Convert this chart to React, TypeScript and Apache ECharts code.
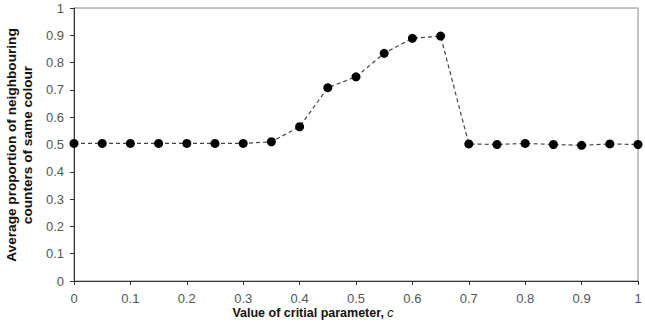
import React, { useEffect, useRef } from "react";
import * as echarts from "echarts";

const xValues = [0, 0.05, 0.1, 0.15, 0.2, 0.25, 0.3, 0.35, 0.4, 0.45, 0.5, 0.55, 0.6, 0.65, 0.7, 0.75, 0.8, 0.85, 0.9, 0.95, 1.0];
const yValues = [0.504, 0.504, 0.504, 0.504, 0.504, 0.504, 0.504, 0.51, 0.565, 0.708, 0.748, 0.834, 0.889, 0.897, 0.502, 0.5, 0.504, 0.5, 0.497, 0.502, 0.5];
const xTitle = "Value of critial parameter, ";
const xTitleItalic = "c";
const yTitleLines = ["Average proportion of neighbouring", "counters of same colour"];

export default function App() {
  const ref = useRef<HTMLDivElement>(null);
  useEffect(() => {
    if (!ref.current) return;
    const chart = echarts.init(ref.current, undefined, { renderer: "svg" });
    const font = "'Liberation Sans', Arial, sans-serif";
    chart.setOption({
      animation: false,
      backgroundColor: "#ffffff",
      grid: { left: 74, top: 8, right: 7, bottom: 55, show: true, borderColor: "#888", borderWidth: 1 },
      xAxis: {
        type: "value",
        min: 0,
        max: 1,
        interval: 0.1,
        axisLine: { lineStyle: { color: "#333", width: 1 } },
        axisTick: { show: true, length: 4, lineStyle: { color: "#333" } },
        axisLabel: { color: "#555", fontFamily: font, fontSize: 13, margin: 11 },
        splitLine: { show: false },
      },
      yAxis: {
        type: "value",
        min: 0,
        max: 1,
        interval: 0.1,
        axisLine: { show: true, lineStyle: { color: "#333", width: 1 } },
        axisTick: { show: true, length: 4, lineStyle: { color: "#333" } },
        axisLabel: { color: "#555", fontFamily: font, fontSize: 13, margin: 10 },
        splitLine: { show: false },
      },
      series: [
        {
          type: "line",
          data: xValues.map((x, i) => [x, yValues[i]]),
          symbol: "circle",
          symbolSize: 9,
          itemStyle: { color: "#000" },
          lineStyle: { color: "#444", width: 1.2, type: [4, 3] },
          z: 3,
        },
      ],
      graphic: [
        {
          type: "text",
          x: 313,
          y: 313,
          style: {
            text: "{a|" + xTitle + "}{b|" + xTitleItalic + "}",
            align: "center",
            verticalAlign: "middle",
            rich: {
              a: { fontFamily: font, fontSize: 12.5, fontWeight: "bold", fill: "#111" },
              b: { fontFamily: font, fontSize: 12.5, fontStyle: "italic", fill: "#111" },
            },
          },
        },
        {
          type: "text",
          x: 19.5,
          y: 145,
          rotation: Math.PI / 2,
          scaleX: 1.05,
          style: {
            text: yTitleLines.join("\n"),
            align: "center",
            verticalAlign: "middle",
            fontFamily: font,
            fontSize: 13,
            fontWeight: "bold",
            lineHeight: 16.5,
            fill: "#111",
          },
        },
      ],
    });
    return () => chart.dispose();
  }, []);
  return <div ref={ref} style={{ position: "fixed", left: 0, top: 0, width: 645, height: 336 }} />;
}
